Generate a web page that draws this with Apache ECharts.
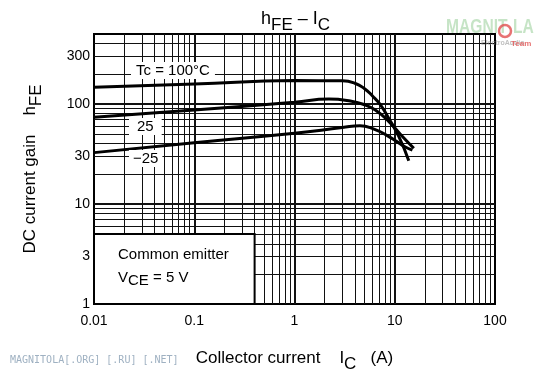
<!DOCTYPE html>
<html>
<head>
<meta charset="utf-8">
<script src="https://cdn.jsdelivr.net/npm/echarts@6/dist/echarts.min.js"></script>
<style>
    html, body { margin: 0; padding: 0; background: #fff; }
    #chart { width: 546px; height: 376px; }
</style>
</head>
<body>
<div id="chart"></div>
<script>
// hFE - IC curves
let icT100 = [0.01, 0.1, 1, 3, 4, 5, 6, 7.2, 8.7, 11, 13.8];
let hfeT100 = [147, 158, 171, 170, 161, 142, 120, 98, 72, 47, 27];

let icT25 = [0.01, 0.1, 1, 2.2, 3.6, 5, 6.4, 8.7, 12, 15.5];
let hfeT25 = [73.5, 87, 104, 112, 107, 98, 87, 67, 47, 36];

let icTm25 = [0.01, 0.1, 1, 3, 4.5, 6.2, 8.5, 10.5, 12.5, 15];
let hfeTm25 = [32.6, 41, 51, 58, 60.5, 56, 48, 42, 37.5, 34.5];

let yTickLabels = [1, 3, 10, 30, 100, 300];

// grid lines of the log paper
let xMajor = [0.1, 1, 10];
let yMajor = [10, 100];
let xMinor = [];
[0.01, 0.1, 1, 10].forEach(d => {
    for (let k = 2; k < 10; k++) xMinor.push(+(k * d).toPrecision(3));
});
let yMinor = [];
[1, 10, 100].forEach(d => {
    for (let k = 2; k < 10; k++) {
        if (k * d < 500) yMinor.push(k * d);
    }
});

let gridLines = [];
xMinor.forEach(v => gridLines.push({ xAxis: v, lineStyle: { width: 1 } }));
yMinor.forEach(v => gridLines.push({ yAxis: v, lineStyle: { width: 1 } }));
xMajor.forEach(v => gridLines.push({ xAxis: v, lineStyle: { width: 2 } }));
yMajor.forEach(v => gridLines.push({ yAxis: v, lineStyle: { width: 2 } }));

function curve(name, xs, ys) {
    return {
        type: 'line',
        name: name,
        z: 4,
        showSymbol: false,
        smooth: 0.5,
        data: xs.map((x, i) => [x, ys[i]]),
        lineStyle: { color: '#000', width: 3 },
        animation: false
    };
}

const font = '"Liberation Sans", Arial, sans-serif';

function subRich(size, subSize, shift) {
    return {
        a: { fontSize: size, fontFamily: font, fontWeight: 'normal', color: '#000' },
        s: { fontSize: subSize, fontFamily: font, fontWeight: 'normal', color: '#000', padding: [shift, 0, 0, 0] }
    };
}

let option = {
    animation: false,
    title: {
        text: '{a|h}{s|FE}{a| \u2013 I}{s|C}',
        left: 256,
        top: 0,
        textStyle: { rich: subRich(18, 17, 12) }
    },
    grid: {
        left: 94,
        right: 51,
        top: 34,
        bottom: 72,
        outerBoundsMode: 'none',
        containLabel: false,
        show: true,
        borderColor: '#000',
        borderWidth: 2
    },
    xAxis: {
        type: 'log',
        logBase: 10,
        min: 0.01,
        max: 100,
        name: '{a|Collector current    I}{s|C}{a|   (A)}',
        nameLocation: 'middle',
        nameGap: 40,
        nameTextStyle: { rich: subRich(17, 17, 12) },
        axisLine: { show: false },
        axisTick: { show: false },
        splitLine: { show: false },
        axisLabel: {
            margin: 10,
            fontSize: 14,
            fontFamily: font,
            color: '#000',
            formatter: v => String(v)
        }
    },
    yAxis: {
        type: 'log',
        logBase: 10,
        min: 1,
        max: 500,
        name: '{a|DC current gain    h}{s|FE}',
        nameLocation: 'middle',
        nameRotate: 90,
        nameGap: 49,
        nameTextStyle: { rich: subRich(17, 17, 12) },
        axisLine: { show: false },
        axisTick: { show: false },
        splitLine: { show: false },
        axisLabel: {
            margin: 4,
            fontSize: 14,
            fontFamily: font,
            color: '#000',
            customValues: yTickLabels,
            formatter: v => String(v)
        }
    },
    series: [
        {
            type: 'line',
            name: 'grid',
            z: 1,
            data: [],
            markLine: {
                z: 1,
                silent: true,
                animation: false,
                symbol: ['none', 'none'],
                label: { show: false },
                lineStyle: { color: '#111', type: 'solid', width: 1 },
                data: gridLines
            }
        },
        {
            type: 'line',
            name: 'box',
            z: 3,
            data: [],
            markArea: {
                z: 3,
                silent: true,
                animation: false,
                itemStyle: { color: '#fff', opacity: 1, borderColor: '#000', borderWidth: 2 },
                data: [[{ xAxis: 0.01, yAxis: 1 }, { xAxis: 0.4, yAxis: 5 }]]
            }
        },
        curve('Tc = 100°C', icT100, hfeT100),
        curve('25', icT25, hfeT25),
        curve('-25', icTm25, hfeTm25)
    ],
    graphic: [
        {
            type: 'text', z: 10, left: 131, top: 62,
            style: {
                text: 'Tc = 100°C', font: '15px ' + font, fill: '#000',
                backgroundColor: '#fff', padding: [1, 5, 1, 5]
            }
        },
        {
            type: 'text', z: 10, left: 129, top: 118,
            style: {
                text: '25', font: '15px ' + font, fill: '#000',
                backgroundColor: '#fff', padding: [1, 8, 1, 8]
            }
        },
        {
            type: 'text', z: 10, left: 129, top: 150,
            style: {
                text: '\u221225', font: '15px ' + font, fill: '#000',
                backgroundColor: '#fff', padding: [1, 4, 1, 4]
            }
        },
        {
            type: 'text', z: 10, left: 118, top: 247,
            style: { text: 'Common emitter', font: '15px ' + font, fill: '#000' }
        },
        {
            type: 'text', z: 10, left: 118, top: 270,
            style: {
                text: '{a|V}{s|CE}{a| = 5 V}',
                rich: {
                    a: { fontSize: 15, fontFamily: font, color: '#000' },
                    s: { fontSize: 15, fontFamily: font, color: '#000', padding: [7, 0, 0, 0] }
                }
            }
        },
        {
            type: 'text', z: 10, left: 10, top: 355,
            style: { text: 'MAGNITOLA[.ORG] [.RU] [.NET]', font: '10px "DejaVu Sans Mono", monospace', fill: '#9fb1c2' }
        },
        {
            type: 'text', z: 10, x: 446, y: 17, scaleX: 0.78,
            style: { text: 'MAGNIT', font: 'bold 20px "Liberation Sans", sans-serif', fill: 'rgba(160,210,160,0.6)' }
        },
        {
            type: 'circle', z: 10,
            shape: { cx: 505, cy: 31, r: 6 },
            style: { fill: 'none', stroke: 'rgba(225,80,80,0.8)', lineWidth: 2.5 }
        },
        {
            type: 'text', z: 10, x: 513, y: 17, scaleX: 0.78,
            style: { text: 'LA', font: 'bold 20px "Liberation Sans", sans-serif', fill: 'rgba(160,210,160,0.6)' }
        },
        {
            type: 'text', z: 10, left: 481, top: 40,
            style: { text: 'ElectroAudio', font: 'bold 7px "Liberation Sans", sans-serif', fill: 'rgba(150,150,150,0.6)' }
        },
        {
            type: 'text', z: 10, left: 511, top: 40,
            style: { text: 'Team', font: 'bold 8px "Liberation Sans", sans-serif', fill: 'rgba(225,80,80,0.8)' }
        }
    ]
};

let chart = echarts.init(document.getElementById('chart'));
chart.setOption(option);
window.addEventListener('resize', function () {
    chart.resize();
});
</script>
</body>
</html>
